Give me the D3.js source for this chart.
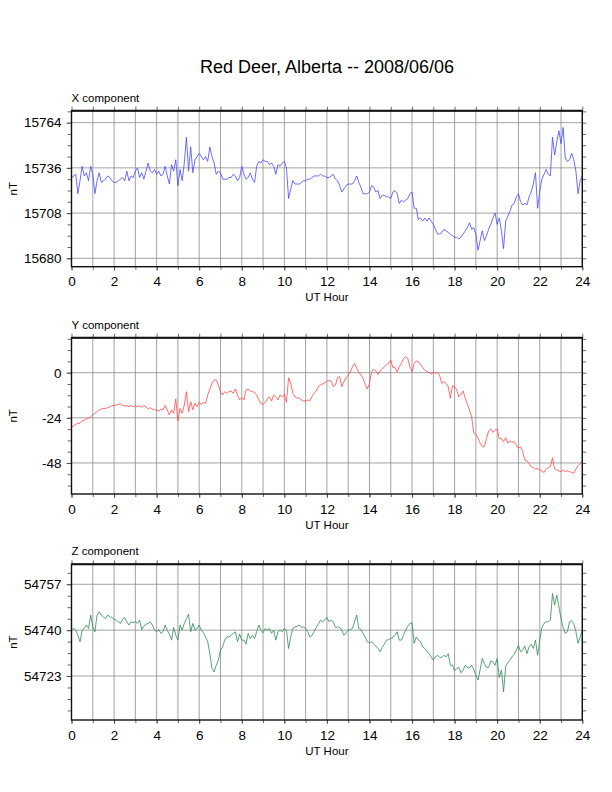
<!DOCTYPE html>
<html>
<head>
<meta charset="utf-8">
<script src="https://cdn.jsdelivr.net/npm/d3@7"></script>
<style>
  body { margin: 0; background: #fff; }
  text { font-family: "Liberation Sans", Arial, Helvetica, sans-serif; fill: #000; }
</style>
</head>
<body>
<script>
// magnetometer readings, one sample every 0.1 UT hour (0 .. 24)
var hours = d3.range(0, 241).map(function (i) { return i / 10; });

var xValues = [
  15730,15731,15732,15720,15728,15737,15731,15733,15728,15737,
  15732,15720,15728,15733,15727,15728,15729,15731,15730,15728,
  15727,15727,15728,15729,15730,15728,15734,15728,15731,15730,
  15734,15736,15730,15733,15729,15734,15739,15734,15733,15735,
  15732,15734,15731,15732,15737,15731,15726,15738,15734,15741,
  15725,15735,15728,15739,15755,15734,15749,15733,15741,15743,
  15745,15743,15741,15743,15740,15749,15743,15739,15732,15734,
  15733,15729,15729,15729,15730,15730,15732,15731,15728,15730,
  15737,15732,15729,15730,15733,15729,15727,15737,15740,15739,
  15741,15740,15740,15738,15739,15737,15732,15738,15737,15739,
  15740,15736,15717,15723,15728,15726,15726,15726,15727,15728,
  15728,15729,15729,15730,15731,15731,15731,15732,15731,15731,
  15730,15730,15731,15732,15729,15728,15725,15721,15723,15725,
  15726,15726,15726,15728,15731,15727,15724,15720,15720,15720,
  15721,15725,15724,15721,15722,15717,15719,15719,15718,15718,
  15717,15721,15722,15720,15714,15716,15715,15716,15717,15720,
  15721,15711,15711,15704,15705,15703,15705,15703,15705,15703,
  15701,15698,15695,15695,15696,15698,15697,15696,15695,15694,
  15693,15693,15692,15693,15695,15697,15699,15702,15698,15699,
  15695,15685,15691,15697,15691,15694,15698,15701,15705,15708,
  15701,15705,15697,15686,15703,15706,15709,15713,15714,15718,
  15720,15715,15713,15714,15713,15718,15721,15726,15733,15711,
  15721,15729,15732,15735,15732,15731,15755,15744,15752,15759,
  15751,15761,15742,15740,15741,15745,15741,15734,15720,15728,
  15731
];

var yValues = [
  -29.2,-28.3,-27.5,-26.9,-26.9,-25.7,-25.2,-24.6,-24.3,-23.4,
  -22.5,-21.6,-20.7,-19.8,-19.3,-19.0,-19.0,-18.6,-18.2,-17.5,
  -17.5,-17.2,-16.8,-16.6,-17.5,-17.7,-17.5,-18.1,-17.5,-18.1,
  -17.7,-18.1,-17.7,-18.4,-17.5,-18.1,-19.5,-18.6,-19.3,-19.8,
  -19.8,-20.4,-19.5,-19.8,-17.5,-19.8,-22.5,-19.8,-21.6,-14.0,
  -25.7,-19.0,-21.6,-17.2,-10.1,-20.7,-15.4,-19.8,-16.3,-18.1,
  -15.8,-16.8,-15.8,-16.3,-11.9,-8.7,-5.7,-3.9,-3.9,-6.6,
  -10.1,-11.9,-10.1,-11.0,-10.1,-9.7,-11.0,-8.7,-11.9,-14.5,
  -13.3,-14.5,-9.2,-8.7,-9.7,-10.1,-10.4,-11.9,-14.5,-16.3,
  -16.8,-15.8,-14.0,-12.8,-15.1,-11.9,-12.8,-14.5,-11.9,-12.8,
  -11.5,-15.8,-2.7,-5.7,-11.0,-12.8,-13.6,-13.3,-14.5,-15.1,
  -15.1,-14.5,-14.9,-12.8,-11.0,-9.7,-7.4,-6.6,-6.0,-5.3,
  -4.4,-4.3,-4.3,-7.4,-6.6,-2.7,-2.1,-7.4,-4.8,-2.7,
  -1.2,0.2,3.2,5.0,2.3,0.2,-1.2,-3.0,-6.2,-8.7,
  -5.7,0.5,1.9,0.9,-0.9,0.9,1.9,3.2,4.1,5.0,
  6.7,2.7,2.7,0.5,3.2,5.0,7.6,8.5,7.6,3.2,
  0.5,5.0,6.2,5.8,4.4,2.7,1.4,0.5,0.2,-0.7,
  0.2,-0.4,0.2,-1.6,-5.7,-4.8,-5.7,-7.4,-13.6,-6.9,
  -7.4,-9.2,-12.8,-11.5,-9.7,-13.6,-16.8,-19.8,-23.4,-32.2,
  -32.8,-34.9,-37.5,-39.3,-39.3,-34.9,-31.0,-29.9,-31.7,-30.5,
  -29.9,-35.2,-34.9,-36.7,-34.5,-37.5,-36.3,-37.0,-36.7,-38.4,
  -40.2,-39.3,-42.0,-46.4,-46.9,-48.2,-49.9,-50.5,-51.2,-50.8,
  -51.7,-52.2,-53.1,-51.2,-50.5,-49.9,-45.2,-51.2,-51.7,-52.2,
  -52.6,-51.7,-52.6,-52.2,-52.6,-53.0,-53.5,-51.2,-49.4,-48.2,
  -47.3
];

var zValues = [
  54740.2,54740.6,54740.0,54738.1,54735.7,54740.0,54740.6,54741.9,54740.6,54745.6,
  54741.2,54739.4,54745.6,54746.8,54745.6,54744.9,54744.3,54745.6,54744.9,54744.7,
  54744.0,54743.7,54743.1,54742.5,54744.0,54744.7,54743.1,54741.9,54743.1,54742.7,
  54743.3,54742.5,54743.7,54740.2,54741.5,54742.2,54742.5,54743.1,54741.9,54740.0,
  54739.4,54740.2,54738.8,54739.4,54741.9,54740.0,54738.5,54736.3,54741.0,54738.1,
  54736.3,54741.9,54740.0,54742.5,54744.3,54745.9,54739.4,54742.5,54740.0,54740.6,
  54741.9,54740.0,54739.0,54737.5,54735.7,54731.3,54725.8,54724.5,54727.0,54728.9,
  54732.6,54733.8,54736.3,54737.5,54737.5,54738.1,54738.8,54739.4,54735.7,54738.5,
  54736.3,54736.3,54734.8,54738.8,54736.9,54738.1,54736.9,54739.4,54741.9,54740.0,
  54739.0,54740.6,54740.0,54740.6,54738.8,54740.0,54736.3,54739.4,54740.0,54739.4,
  54740.6,54740.0,54733.2,54737.5,54740.6,54741.2,54741.5,54741.9,54741.0,54741.2,
  54740.6,54739.4,54737.5,54738.1,54739.4,54741.0,54742.2,54743.7,54743.1,54743.7,
  54744.7,54743.1,54743.7,54743.1,54741.0,54741.2,54741.0,54740.0,54738.1,54739.0,
  54740.0,54740.2,54740.6,54743.1,54745.6,54740.6,54740.2,54738.8,54737.3,54735.7,
  54735.3,54735.7,54734.8,54734.1,54733.2,54732.0,54733.6,54734.8,54736.3,54736.5,
  54736.9,54737.3,54738.1,54739.4,54736.3,54736.3,54738.1,54740.0,54741.5,54742.5,
  54742.7,54735.1,54737.5,54736.3,54735.7,54733.8,54733.2,54732.3,54731.3,54730.1,
  54728.9,54730.1,54730.7,54729.9,54729.9,54730.7,54730.1,54731.3,54727.0,54727.0,
  54724.9,54725.8,54726.2,54724.2,54725.2,54727.0,54726.2,54726.0,54727.0,54725.4,
  54723.3,54721.5,54725.4,54729.5,54727.6,54726.2,54726.2,54728.6,54728.3,54727.0,
  54729.5,54722.4,54725.2,54717.1,54726.7,54727.9,54728.9,54730.1,54731.1,54732.6,
  54734.4,54732.0,54732.6,54734.1,54731.3,54733.8,54734.8,54733.2,54736.3,54730.7,
  54736.3,54741.0,54742.5,54743.1,54743.1,54743.7,54753.6,54749.3,54753.0,54748.7,
  54744.3,54741.0,54738.8,54739.4,54743.1,54743.5,54742.5,54739.4,54735.1,54737.5,
  54740.0
];

var hourTicks = d3.range(0, 25, 2);
var xTicks = [15680, 15708, 15736, 15764];
var yTicks = [-48, -24, 0];
var zTicks = [54723, 54740, 54757];

var panels = [
  { title: 'X component', values: xValues, ticks: xTicks, minor: 7,
    domain: [15674.8, 15771.4], top: 110.7, bottom: 266.7, color: '#4848ff' },
  { title: 'Y component', values: yValues, ticks: yTicks, minor: 6,
    domain: [-64.5, 18.6], top: 337.7, bottom: 494, color: '#ff4848' },
  { title: 'Z component', values: zValues, ticks: zTicks, minor: 4.25,
    domain: [54706.7, 54764.4], top: 564.3, bottom: 720, color: '#2e8b57' }
];

var svg = d3.select('body').append('svg')
    .attr('width', 612)
    .attr('height', 792);

svg.append('text')
    .attr('x', 327)
    .attr('y', 73)
    .attr('text-anchor', 'middle')
    .style('font-size', '18px')
    .text('Red Deer, Alberta -- 2008/06/06');

var x = d3.scaleLinear().domain([0, 24]).range([71.5, 582.3]);
var allHours = d3.range(0, 25);
var plain = function (d) { return String(d); };   // keep ascii hyphen for negatives

panels.forEach(function (p) {
  var y = d3.scaleLinear().domain(p.domain).range([p.bottom, p.top]);
  var g = svg.append('g');

  // minor tick values stepping out from the first labelled tick
  var minorTicks = [];
  for (var v = p.ticks[0]; v <= p.domain[1]; v += p.minor) minorTicks.push(v);
  for (var v = p.ticks[0] - p.minor; v >= p.domain[0]; v -= p.minor) minorTicks.push(v);

  // grid
  g.selectAll('.vgrid').data(allHours).enter().append('line')
      .attr('x1', function (d) { return x(d); })
      .attr('x2', function (d) { return x(d); })
      .attr('y1', p.top).attr('y2', p.bottom)
      .attr('stroke', '#8c8c8c').attr('stroke-width', 0.8);
  g.selectAll('.hgrid').data(p.ticks).enter().append('line')
      .attr('x1', x(0)).attr('x2', x(24))
      .attr('y1', function (d) { return y(d); })
      .attr('y2', function (d) { return y(d); })
      .attr('stroke', '#8c8c8c').attr('stroke-width', 0.8);

  // data trace
  var line = d3.line()
      .x(function (d, i) { return x(hours[i]); })
      .y(function (d) { return y(d); });
  g.append('path')
      .datum(p.values)
      .attr('d', line)
      .attr('fill', 'none')
      .attr('stroke', p.color)
      .attr('stroke-width', 0.8);

  // ticks: left / right
  var leftMinor = d3.axisLeft(y).tickValues(minorTicks).tickSize(4).tickFormat('');
  var rightMinor = d3.axisRight(y).tickValues(minorTicks).tickSize(4).tickFormat('');
  g.append('g').attr('transform', 'translate(' + x(0) + ',0)').call(leftMinor);
  g.append('g').attr('transform', 'translate(' + x(24) + ',0)').call(rightMinor);

  var leftAxis = d3.axisLeft(y).tickValues(p.ticks).tickSize(5).tickPadding(5)
      .tickFormat(plain);
  g.append('g').attr('class', 'lbl').attr('transform', 'translate(' + x(0) + ',0)').call(leftAxis);

  // ticks: top / bottom
  var topAxis = d3.axisTop(x).tickValues(allHours).tickSize(4).tickFormat('');
  g.append('g').attr('transform', 'translate(0,' + p.top + ')').call(topAxis);
  var botMinor = d3.axisBottom(x).tickValues(allHours).tickSize(3).tickFormat('');
  g.append('g').attr('transform', 'translate(0,' + p.bottom + ')').call(botMinor);
  var botAxis = d3.axisBottom(x).tickValues(hourTicks).tickSize(4).tickPadding(6)
      .tickFormat(plain);
  g.append('g').attr('class', 'lbl').attr('transform', 'translate(0,' + p.bottom + ')').call(botAxis);

  g.selectAll('.domain').remove();
  g.selectAll('.tick line').attr('stroke', '#444').attr('stroke-width', 0.8);
  g.selectAll('.lbl text')
      .style('font-family', '"Liberation Sans", Arial, Helvetica, sans-serif')
      .style('font-size', '13.5px')
      .attr('fill', '#000');

  // frame
  g.append('rect')
      .attr('x', x(0)).attr('y', p.top)
      .attr('width', x(24) - x(0)).attr('height', p.bottom - p.top)
      .attr('fill', 'none').attr('stroke', '#111').attr('stroke-width', 1.4);
  g.append('line')
      .attr('x1', x(0)).attr('x2', x(24))
      .attr('y1', p.top).attr('y2', p.top)
      .attr('stroke', '#111').attr('stroke-width', 2);

  // labels
  g.append('text')
      .attr('x', x(0))
      .attr('y', p.top - 9)
      .style('font-size', '11.5px')
      .text(p.title);
  g.append('text')
      .attr('x', (x(0) + x(24)) / 2)
      .attr('y', p.bottom + 34.5)
      .attr('text-anchor', 'middle')
      .style('font-size', '11.5px')
      .text('UT Hour');
  g.append('text')
      .attr('transform', 'translate(17,' + ((p.top + p.bottom) / 2) + ') rotate(-90)')
      .attr('text-anchor', 'middle')
      .style('font-size', '11.5px')
      .text('nT');
});
</script>
</body>
</html>
